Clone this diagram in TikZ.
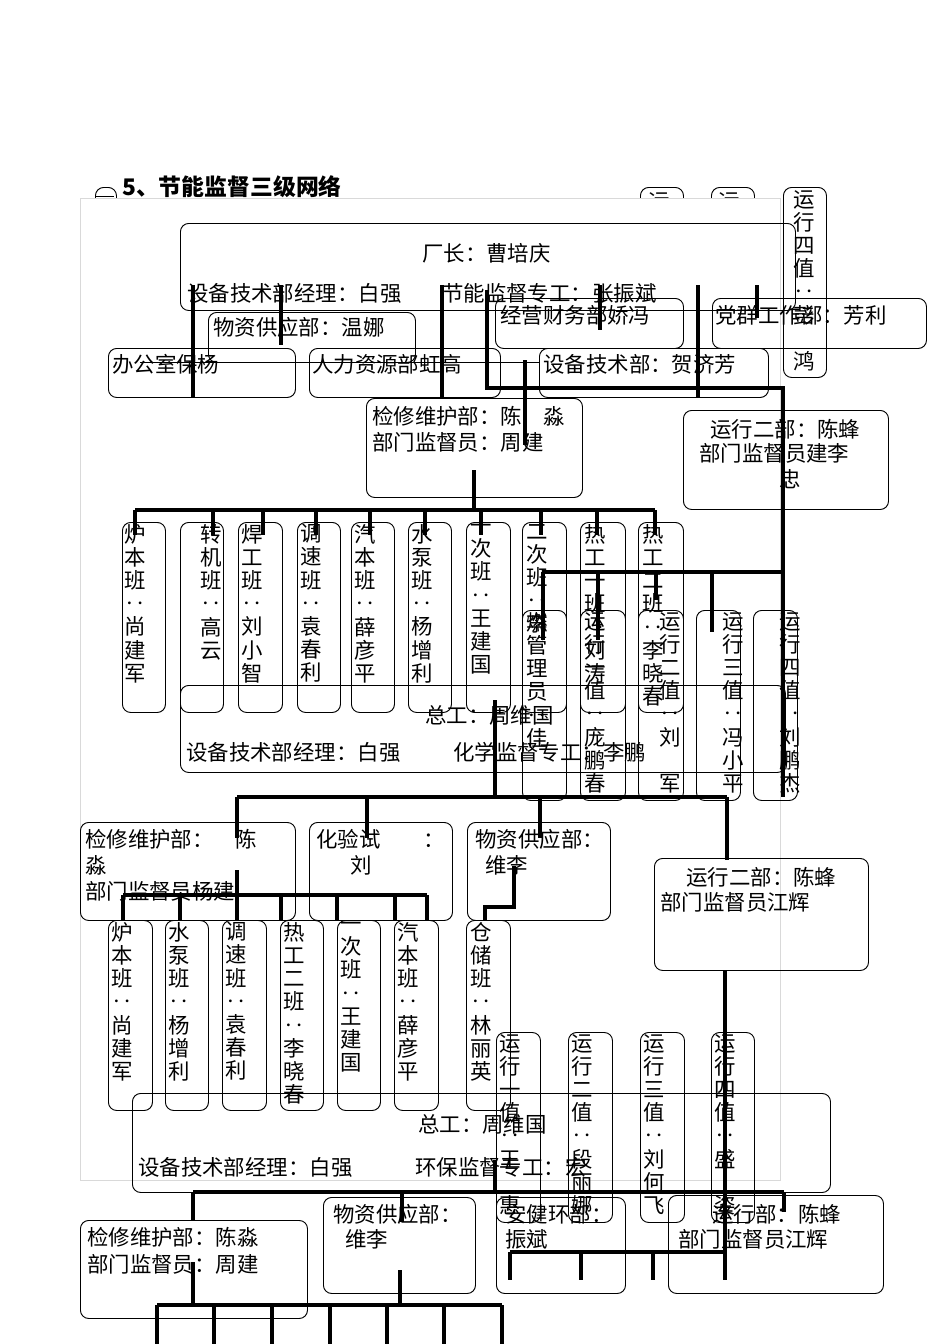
\documentclass[tikz,border=0pt]{standalone}
\usepackage{fontspec}
\newfontfamily\cjk{Noto Sans CJK SC}
\newcommand\cn{\cjk\fontsize{18.3}{19.8}\selectfont}
\newcommand\bx[5]{\node[boxx,minimum width={(#4-#2)*0.03cm},minimum height={(#5-#3)*0.03cm}] (#1) at (#2,#3) {};}
\begin{document}
\begin{tikzpicture}[x=0.03cm,y=-0.03cm,
  boxx/.style={draw,rounded corners=7pt,line width=0.8pt,anchor=north west,inner sep=0},
  tk/.style={line width=2.6pt},
  thn/.style={line width=0.8pt},
  t/.style={anchor=north west,inner sep=0,font=\cn},
  vt/.style={anchor=north,align=center,inner sep=0,font=\cn}]
\useasboundingbox (0,0) rectangle (950,1344);
% hidden small boxes at top
\bx{s1}{95}{187}{116}{260}
\bx{s2}{640}{187}{683}{377}
\bx{s3}{711}{187}{754}{377}
\node[t] (ts2) at (648,192) {运};
\node[t] (ts3) at (718,192) {运};
% page frame
\node[draw=black!15,fill=white,line width=0.8pt,anchor=north west,minimum width={700*0.03cm},minimum height={982*0.03cm},inner sep=0] (frame) at (80,198) {};
\node[t,font=\cjk\bfseries\fontsize{19.5}{21}\selectfont] (title) at (122,175) {5、节能监督三级网络};
\draw[thn] (96,196) -- (114,196);
% ===== level 1 top =====
\bx{sx}{783}{187}{826}{377}
\node[vt] (tsx) at (804,190) {运\\行\\四\\值\\‥\\彭\\\\鸿};
\bx{cz}{180}{223}{795}{310}
\node[t] (tcz) at (422,243) {厂长：曹培庆};
\node[t] (tcz2) at (187,283) {设备技术部经理：白强};
\node[t] (tcz3) at (442,283) {节能监督专工：张振斌};
\bx{wz}{208}{312}{415}{362}
\node[t] (twz) at (213,317) {物资供应部：温娜};
\bx{jy}{495}{298}{683}{348}
\node[t] (tjy) at (500,305) {经营财务部娇冯};
\bx{dq}{712}{298}{926}{348}
\node[t] (tdq) at (715,305) {党群工作部：芳利};
\bx{bg}{108}{348}{295}{397}
\node[t] (tbg) at (112,354) {办公室保杨};
\bx{rl}{309}{348}{500}{397}
\node[t] (trl) at (312,354) {人力资源部虹高};
\bx{sb}{539}{348}{768}{397}
\node[t] (tsb) at (543,354) {设备技术部：贺济芳};
\draw[thn] (140,362) -- (540,362);
\draw[tk] (193,285) -- (193,397);
\draw[tk] (281,285) -- (281,345);
\draw[tk] (442,285) -- (442,397);
\draw[tk] (600,285) -- (600,330);
\draw[tk] (698,285) -- (698,397);
\draw[tk] (757,285) -- (757,318);
\draw[tk] (525,360) -- (525,445);
\draw[tk] (487,290) -- (487,388) -- (783,388) -- (783,797);
% ===== level 2 =====
\bx{jx}{366}{398}{582}{497}
\node[t] (tjx) at (372,406) {检修维护部：陈\quad 淼};
\node[t] (tjx2) at (372,432) {部门监督员：周建};
\bx{yx}{683}{410}{888}{509}
\node[t] (tyx) at (710,419) {运行二部：陈蜂};
\node[t] (tyx2) at (699,443) {部门监督员建李};
\node[t] (tyx3) at (779,469) {忠};
\draw[tk] (474,470) -- (474,510);
\draw[tk] (135,510) -- (655,510);
\foreach \x in {135,213,263,316,370,425,481,541,597,655} \draw[tk] (\x,510) -- (\x,535);
% class row
\bx{c1}{122}{522}{165}{712}\node[vt] (tc1) at (135,524) {炉\\本\\班\\‥\\尚\\建\\军};
\bx{c2}{180}{522}{223}{712}\node[vt] (tc2) at (211,524) {转\\机\\班\\‥\\高\\云};
\bx{c3}{238}{522}{282}{712}\node[vt] (tc3) at (252,524) {焊\\工\\班\\‥\\刘\\小\\智};
\bx{c4}{297}{522}{340}{712}\node[vt] (tc4) at (311,524) {调\\速\\班\\‥\\袁\\春\\利};
\bx{c5}{351}{522}{394}{712}\node[vt] (tc5) at (365,524) {汽\\本\\班\\‥\\薛\\彦\\平};
\bx{c6}{408}{522}{451}{712}\node[vt] (tc6) at (422,524) {水\\泵\\班\\‥\\杨\\增\\利};
\bx{c7}{466}{522}{510}{712}\node[vt] (tc7) at (481,524) {一\\次\\班\\‥\\王\\建\\国};
\bx{c8}{522}{522}{566}{712}\node[vt] (tc8) at (537,524) {二\\次\\班\\‥\\李};
\bx{c9}{580}{522}{625}{712}\node[vt] (tc9) at (595,524) {热\\工\\一\\班\\‥\\刘\\涛};
\bx{c10}{638}{522}{683}{712}\node[vt] (tc10) at (653,524) {热\\工\\二\\班\\‥\\李\\晓\\春};
\draw[tk] (543,572) -- (783,572);
\draw[tk] (543,572) -- (543,640);
\draw[tk] (598,572) -- (598,640);
\draw[tk] (656,572) -- (656,600);
\draw[tk] (712,572) -- (712,632);
\bx{r1}{522}{610}{566}{800}\node[vt] (tr1) at (537,612) {燃\\管\\理\\员\\‥\\佳};
\bx{r2}{580}{610}{625}{800}\node[vt] (tr2) at (595,612) {运\\行\\一\\值\\‥\\庞\\鹏\\春};
\bx{r3}{638}{610}{683}{800}\node[vt] (tr3) at (670,612) {运\\行\\二\\值\\‥\\刘\\\\军};
\bx{r4}{696}{610}{740}{800}\node[vt] (tr4) at (733,612) {运\\行\\三\\值\\‥\\冯\\小\\平};
\bx{r5}{753}{610}{797}{800}\node[vt] (tr5) at (790,612) {运\\行\\四\\值\\‥\\刘\\鹏\\杰};
\bx{zg}{180}{685}{785}{772}
\node[t] (tzg) at (425,705) {总工：周维国};
\node[t] (tzg2) at (186,742) {设备技术部经理：白强};
\node[t] (tzg3) at (453,742) {化学监督专工：李鹏};
% ===== level 3 =====
\draw[tk] (495,700) -- (495,797);
\draw[tk] (237,797) -- (727,797);
\draw[tk] (237,797) -- (237,838);
\draw[tk] (367,797) -- (367,838);
\draw[tk] (540,797) -- (540,838);
\draw[tk] (727,797) -- (727,860);
\bx{jx2}{80}{822}{295}{920}
\node[t] (tjx2a) at (85,829) {检修维护部：\quad 陈};
\node[t] (tjx2b) at (85,855) {淼};
\node[t] (tjx2c) at (85,881) {部门监督员杨建};
\bx{hy}{309}{822}{452}{920}
\node[t] (thy) at (316,829) {化验试\quad\quad：};
\node[t] (thy2) at (350,855) {刘};
\bx{wz2}{467}{822}{610}{920}
\node[t] (twz2) at (475,829) {物资供应部：};
\node[t] (twz2b) at (485,855) {维李};
\bx{yx2}{654}{858}{868}{970}
\node[t] (tyx2a) at (686,867) {运行二部：陈蜂};
\node[t] (tyx2b) at (660,892) {部门监督员江辉};
\draw[tk] (237,870) -- (237,895);
\draw[tk] (123,895) -- (427,895);
\foreach \x in {123,180,237,281,337,395,427} \draw[tk] (\x,895) -- (\x,920);
\draw[tk] (514,866) -- (514,907) -- (485,907) -- (485,920);
\draw[tk] (725,970) -- (725,1252);
\bx{d1}{108}{920}{152}{1110}\node[vt] (td1) at (122,922) {炉\\本\\班\\‥\\尚\\建\\军};
\bx{d2}{165}{920}{208}{1110}\node[vt] (td2) at (179,922) {水\\泵\\班\\‥\\杨\\增\\利};
\bx{d3}{222}{920}{266}{1110}\node[vt] (td3) at (236,922) {调\\速\\班\\‥\\袁\\春\\利};
\bx{d4}{280}{920}{323}{1110}\node[vt] (td4) at (294,922) {热\\工\\二\\班\\‥\\李\\晓\\春};
\bx{d5}{337}{920}{380}{1110}\node[vt] (td5) at (351,922) {一\\次\\班\\‥\\王\\建\\国};
\bx{d6}{394}{920}{438}{1110}\node[vt] (td6) at (408,922) {汽\\本\\班\\‥\\薛\\彦\\平};
\bx{d7}{466}{920}{510}{1110}\node[vt] (td7) at (481,922) {仓\\储\\班\\‥\\林\\丽\\英};
\bx{e1}{496}{1032}{540}{1222}\node[vt] (te1) at (510,1034) {运\\行\\一\\值\\‥\\王\\\\惠};
\bx{e2}{568}{1032}{612}{1222}\node[vt] (te2) at (582,1034) {运\\行\\二\\值\\‥\\段\\丽\\娜};
\bx{e3}{640}{1032}{684}{1222}\node[vt] (te3) at (654,1034) {运\\行\\三\\值\\‥\\刘\\何\\飞};
\bx{e4}{711}{1032}{754}{1222}\node[vt] (te4) at (725,1034) {运\\行\\四\\值\\‥\\盛\\\\姿};
\bx{zg3}{132}{1093}{830}{1192}
\node[t] (tzg3a) at (418,1114) {总工：周维国};
\node[t] (tzg3b) at (138,1157) {设备技术部经理：白强};
\node[t] (tzg3c) at (415,1157) {环保监督专工：宏};
% ===== level 4 =====
\draw[tk] (495,1160) -- (495,1192);
\draw[tk] (193,1192) -- (784,1192);
\draw[tk] (193,1192) -- (193,1220);
\draw[tk] (402,1192) -- (402,1222);
\draw[tk] (784,1192) -- (784,1212);
\bx{jx3}{80}{1220}{307}{1318}
\node[t] (tjx3a) at (87,1227) {检修维护部：陈淼};
\node[t] (tjx3b) at (87,1254) {部门监督员：周建};
\bx{wz3}{323}{1197}{475}{1293}
\node[t] (twz3a) at (333,1204) {物资供应部：};
\node[t] (twz3b) at (345,1229) {维李};
\bx{aj}{496}{1197}{625}{1293}
\node[t] (taj) at (505,1204) {安健环部：};
\node[t] (taj2) at (505,1229) {振斌};
\bx{yx3}{668}{1195}{883}{1293}
\node[t] (tyx3a) at (712,1204) {运行部：陈蜂};
\node[t] (tyx3b) at (678,1229) {部门监督员江辉};
\draw[tk] (510,1252) -- (725,1252);
\foreach \x in {510,581,653} \draw[tk] (\x,1252) -- (\x,1280);
\draw[tk] (725,1252) -- (725,1280);
\draw[tk] (193,1262) -- (193,1305);
\draw[tk] (400,1270) -- (400,1305);
\draw[tk] (157,1305) -- (502,1305);
\foreach \x in {157,214,272,330,387,444,502} \draw[tk] (\x,1305) -- (\x,1344);
\end{tikzpicture}
\end{document}
